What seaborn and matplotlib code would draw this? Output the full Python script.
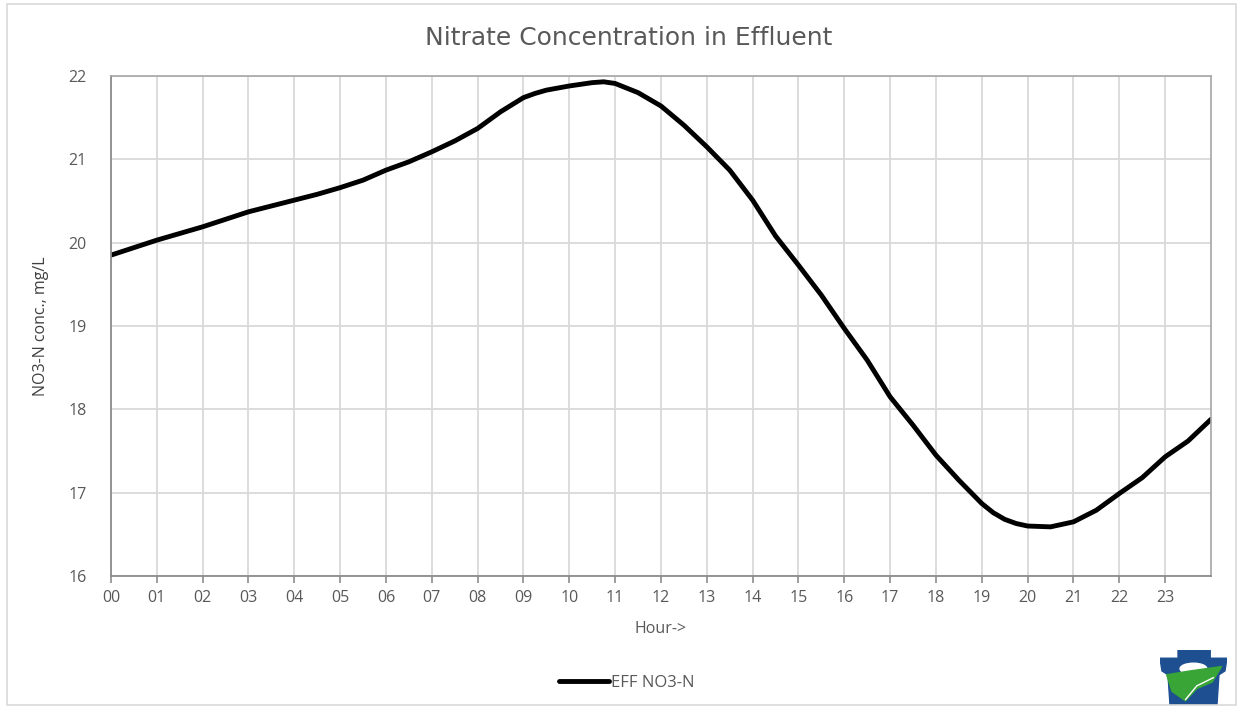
import numpy as np
import pandas as pd
import seaborn as sns
from matplotlib import pyplot as plt
from matplotlib.patches import Rectangle, Polygon, Ellipse

# hourly nitrate readings
hours = [0, 0.5, 1, 1.5, 2, 2.5, 3, 3.5, 4, 4.5, 5, 5.5, 6, 6.5, 7, 7.5,
         8, 8.5, 9, 9.25, 9.5, 10, 10.5, 10.75, 11, 11.5, 12, 12.5, 13, 13.5,
         14, 14.5, 15, 15.5, 16, 16.5, 17, 17.5, 18, 18.5, 19, 19.25, 19.5,
         19.75, 20, 20.5, 21, 21.5, 22, 22.5, 23, 23.5, 24]
no3 = [19.85, 19.94, 20.03, 20.11, 20.19, 20.28, 20.37, 20.44, 20.51, 20.58,
       20.66, 20.75, 20.87, 20.97, 21.09, 21.22, 21.37, 21.57, 21.74, 21.79,
       21.83, 21.88, 21.92, 21.93, 21.91, 21.80, 21.64, 21.41, 21.15, 20.87,
       20.51, 20.08, 19.73, 19.37, 18.97, 18.59, 18.15, 17.81, 17.45, 17.15,
       16.87, 16.76, 16.68, 16.63, 16.60, 16.59, 16.65, 16.79, 16.99, 17.18,
       17.43, 17.62, 17.88]
tick_labels = ['%02d' % h for h in range(24)]

sns.set_style('whitegrid')
plt.rcParams['font.family'] = ['Open Sans', 'DejaVu Sans']

df = pd.DataFrame({'Hour': hours, 'EFF NO3-N': no3})

fig = plt.figure(figsize=(12.41, 7.08), dpi=100)
ax = fig.add_axes([0.0894, 0.1864, 0.8864, 0.7063])

sns.lineplot(data=df, x='Hour', y='EFF NO3-N', color='black', linewidth=3.5,
             label='EFF NO3-N', ax=ax, legend=False)

ax.set_xlim(0, 24)
ax.set_ylim(16, 22)
ax.set_xticks(range(24))
ax.set_xticklabels(tick_labels)
ax.set_yticks(range(16, 23))
ax.grid(True, color='#d9d9d9', linewidth=1.3)
for s in ['left', 'bottom']:
    ax.spines[s].set_color('#8c8c8c')
    ax.spines[s].set_linewidth(1.3)
for s in ['top', 'right']:
    ax.spines[s].set_color('#a6a6a6')
    ax.spines[s].set_linewidth(1.2)
ax.tick_params(axis='x', bottom=True, length=5, width=1.2, color='#8c8c8c',
               labelsize=11.5, labelcolor='#595959', pad=5)
ax.tick_params(axis='y', left=False, labelsize=11.5, labelcolor='#595959', pad=14)

ax.set_xlabel('Hour->', fontsize=11.5, color='#595959', labelpad=11)
ax.set_ylabel('NO3-N conc., mg/L', fontsize=11.5, color='#404040', labelpad=14)
fig.text(0.507, 0.947, 'Nitrate Concentration in Effluent', ha='center',
         va='center', fontsize=18, color='#595959', family=['DejaVu Sans'])

handles, labels = ax.get_legend_handles_labels()
fig.legend(handles, labels, loc='center', bbox_to_anchor=(0.505, 0.036),
           frameon=False, fontsize=12, handlelength=3.0, handletextpad=0.1,
           labelcolor='#595959')

# outer chart border
fig.patches.append(Rectangle((0.006, 0.004), 0.99, 0.99, transform=fig.transFigure,
                             fill=False, edgecolor='#d9d9d9', linewidth=1.2))

# rough keystone logo
lg = fig.add_axes([0.9347, 0.004, 0.054, 0.078])
lg.axis('off')
lg.set_xlim(0, 1)
lg.set_ylim(0, 1)
lg.add_patch(Polygon([(0.27, 1.0), (0.75, 1.0), (0.75, 0.85), (1.0, 0.85),
                      (0.97, 0.62), (0.88, 0.55), (0.85, 0.0), (0.15, 0.0),
                      (0.12, 0.55), (0.03, 0.62), (0.0, 0.85), (0.27, 0.85)],
                     closed=True, color='#1d4f91'))
lg.add_patch(Ellipse((0.5, 0.66), 0.4, 0.2, color='white'))
lg.add_patch(Polygon([(0.1, 0.55), (0.45, 0.62), (0.92, 0.7), (0.78, 0.42),
                      (0.55, 0.3), (0.38, 0.08), (0.18, 0.25)], closed=True,
                     color='#3aa537'))
lg.plot([0.38, 0.55, 0.8], [0.1, 0.35, 0.5], color='white', linewidth=1)

fig.savefig('out.png', dpi=100)
